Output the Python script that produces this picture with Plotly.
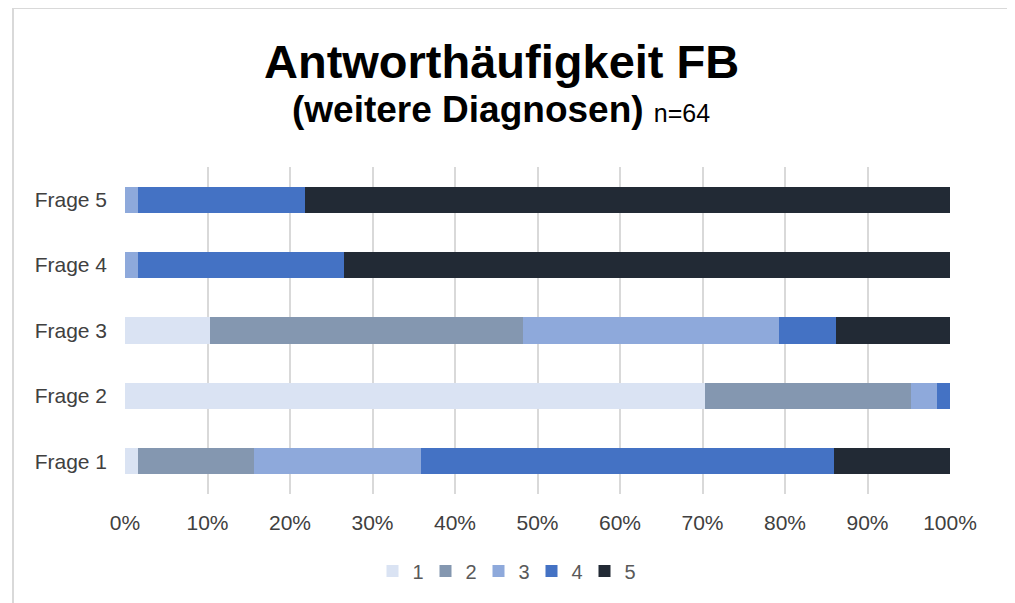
import plotly.graph_objects as go

questions = ["Frage 1", "Frage 2", "Frage 3", "Frage 4", "Frage 5"]
answer_labels = ["1", "2", "3", "4", "5"]
# counts of answers per question (answers 1..5)
ans1 = [1, 45, 6, 0, 0]
ans2 = [9, 16, 22, 0, 0]
ans3 = [13, 2, 18, 1, 1]
ans4 = [32, 1, 4, 16, 13]
ans5 = [9, 0, 8, 47, 50]
series = [ans1, ans2, ans3, ans4, ans5]
colors = ["#DAE3F3", "#8497B0", "#8EA9DB", "#4472C4", "#222A35"]
x_ticks = list(range(0, 101, 10))
x_ticktext = [f"{v}%" for v in x_ticks]

# page has an 8px body margin: target page pixel p -> figure pixel p - 8
OFF = 8
W, H = 1015, 603
L = 125 - OFF
T = 167 - OFF
R = W - (950 - OFF)
B = H - (494 - OFF)
pw, ph = W - L - R, H - T - B

def px(x):
    return (x - OFF - L) / pw

def py(y):
    return (H - B - (y - OFF)) / ph

fig = go.Figure()
for lab, vals, col in zip(answer_labels, series, colors):
    fig.add_trace(go.Bar(
        y=questions, x=vals, name=lab, orientation="h",
        marker=dict(color=col, line=dict(width=0)),
    ))

font_family = "Liberation Sans, Arial, sans-serif"
fig.update_layout(
    width=W, height=H,
    margin=dict(l=L, r=R, t=T, b=B, autoexpand=False),
    barmode="stack", barnorm="percent", bargap=0.6,
    paper_bgcolor="white", plot_bgcolor="white",
    font=dict(family=font_family, color="#404040", size=18),
    showlegend=True,
    legend=dict(orientation="h", x=px(505), xanchor="center", y=py(571), yanchor="middle",
                traceorder="normal", font=dict(size=20, color="#595959"),
                itemwidth=30, entrywidth=8, entrywidthmode="pixels",
                bgcolor="rgba(0,0,0,0)"),
    xaxis=dict(range=[0, 100], tickvals=x_ticks, ticktext=x_ticktext, showgrid=True,
               gridcolor="#D9D9D9", gridwidth=2, zeroline=False, showline=False,
               ticks="", ticklabelstandoff=14, tickfont=dict(size=21, color="#404040"),
               fixedrange=True),
    yaxis=dict(showgrid=False, zeroline=False, showline=False, ticks="",
               ticklabelstandoff=17, tickfont=dict(size=21, color="#404040"),
               fixedrange=True),
    annotations=[
        dict(text="<b>Antworthäufigkeit FB</b>", x=px(501), y=py(61), xref="paper", yref="paper",
             xanchor="center", yanchor="middle", showarrow=False,
             font=dict(size=47, color="#000000", family=font_family)),
        dict(text="<b>(weitere Diagnosen)</b> <span style='font-size:25px'>n=64</span>",
             x=px(501), y=py(110), xref="paper", yref="paper",
             xanchor="center", yanchor="middle", showarrow=False,
             font=dict(size=37, color="#000000", family=font_family)),
    ],
    shapes=[
        dict(type="rect", xref="paper", yref="paper",
             x0=px(13), x1=px(1008), y0=py(620), y1=py(8),
             line=dict(color="#D9D9D9", width=2), fillcolor="rgba(0,0,0,0)", layer="below"),
    ],
)

fig.write_html("out.html")
